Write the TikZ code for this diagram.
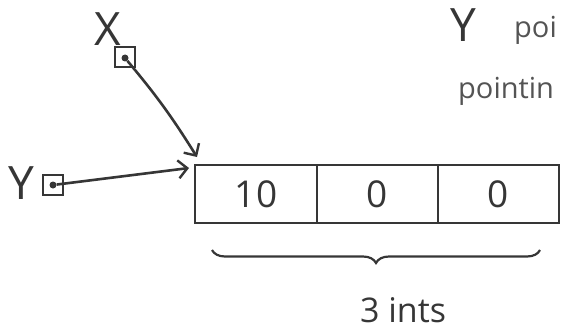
\documentclass[tikz,border=0pt]{standalone}
\usepackage{fontspec}
\setmainfont{Open Sans}
\usetikzlibrary{arrows.meta,decorations.pathreplacing}
\definecolor{ink}{HTML}{363636}
\begin{document}
\begin{tikzpicture}[x=1pt,y=1pt,
  every node/.style={text=ink},
  line/.style={draw=ink,line width=2.6pt},
  arr/.style={line,-{Straight Barb[length=9pt,width=18pt,line width=2.4pt]}},
  ptrbox/.style={draw=ink,line width=2.2pt,minimum size=20pt,inner sep=0pt},
  ptrdot/.style={circle,fill=ink,minimum size=7pt,inner sep=0pt},
  cell/.style={draw=ink,line width=2.2pt,minimum height=58pt,inner sep=0pt,font=\fontsize{37}{37}\selectfont},
  big/.style={font=\fontsize{46}{46}\selectfont,inner sep=0pt},
  note/.style={font=\fontsize{29}{29}\selectfont,inner sep=0pt,text=ink!85}]
\useasboundingbox (0,0) rectangle (561,330);
% pointer X
\node[big] (xl) at (108,301) {X};
\node[ptrbox] (xb) at (125,273) {};
\node[ptrdot] (xd) at (125,272) {};
% pointer Y
\node[big] (yl) at (21,147) {Y};
\node[ptrbox] (yb) at (53,145) {};
\node[ptrdot] (yd) at (53,145) {};
% array cells
\node[cell,minimum width=122pt] (c1) at (256,136) {10};
\node[cell,minimum width=121pt] (c2) at (377.5,136) {0};
\node[cell,minimum width=121pt] (c3) at (498.5,136) {0};
\coordinate (xt) at (197,173);
\coordinate (yt) at (189,162);
\draw[arr] (xd) to[out=-50,in=122] (xt);
\draw[arr] (yd) -- (yt);
% brace
\coordinate (br) at (540,80);
\coordinate (bl) at (212,80);
\draw[line,line width=2.2pt,decorate,decoration={brace,amplitude=13pt}] (br) -- (bl);
\node[font=\fontsize{34}{34}\selectfont,inner sep=0pt,anchor=base] (cnt) at (403,8) {3 ints};
% notes top right
\node[big] (yr) at (463,305) {Y};
\node[note,anchor=base west] (n1) at (514,292) {poi};
\node[note,anchor=base west] (n2) at (458,232) {pointin};
\end{tikzpicture}
\end{document}
